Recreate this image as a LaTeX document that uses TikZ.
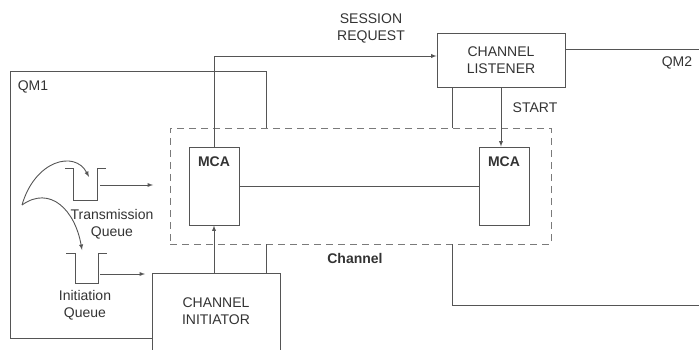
\documentclass[tikz,border=0pt]{standalone}
\usepackage{fontspec}
\setmainfont{Liberation Sans}
\definecolor{linegray}{HTML}{555555}
\definecolor{textgray}{HTML}{333333}
\definecolor{dashgray}{HTML}{7A7A7A}
\tikzset{
	lbl/.style={font=\fontsize{14}{17}\selectfont, text=textgray, align=center, inner sep=0pt},
	boldlbl/.style={lbl, font=\fontsize{14}{17}\selectfont\bfseries},
	box/.style={draw=linegray, line width=0.9pt, rectangle, inner sep=0pt, lbl},
	mcabox/.style={box, minimum width=50pt, minimum height=78pt},
	wire/.style={draw=linegray, line width=0.9pt},
	chanline/.style={draw=dashgray, line width=0.9pt, dash pattern=on 7pt off 5pt}
}
\begin{document}
\begin{tikzpicture}[>=latex, x=1pt, y=-1pt]
	\useasboundingbox (0,0) rectangle (699,350);
	\clip (0,0) rectangle (699,350);
	% channel
	\node[chanline, minimum width=381pt, minimum height=116pt] (chanbox) at (360.5,186) {};
	\node[mcabox] (mcaL) at (214,186) {};
	\node[mcabox] (mcaR) at (504,186) {};
	\node[boldlbl] (mcaLtxt) at ([yshift=-15pt]mcaL.north) {MCA};
	\node[boldlbl] (mcaRtxt) at ([yshift=-15pt]mcaR.north) {MCA};
	\node[boldlbl] (chanlbl) at (355,258) {Channel};
	% listener and initiator
	\node[box, minimum width=128pt, minimum height=54pt] (listener) at (501,60) {CHANNEL\\LISTENER};
	\node[box, minimum width=128pt, minimum height=100pt, anchor=north] (initiator) at (216,273) {};
	\node[lbl] (inittxt) at (216,311) {CHANNEL\\INITIATOR};
	% labels
	\node[lbl] (qmone) at (33,87) {QM1};
	\node[lbl] (qmtwo) at (677,63) {QM2};
	\node[lbl] (sesslbl) at (371,28) {SESSION\\REQUEST};
	\node[lbl] (startlbl) at (535,108) {START};
	\node[lbl] (tqlbl) at (112,224.5) {Transmission\\Queue};
	\node[lbl] (iqlbl) at (85,305) {Initiation\\Queue};
	% queue manager boundaries
	\coordinate (qmonetl) at (10,71);
	\coordinate (qmonetr) at (266,71);
	\coordinate (qmonebl) at (10,338);
	\coordinate (qmtwotop) at (699,49);
	\coordinate (qmtwotap) at (452,87);
	\coordinate (qmtwobr) at (699,305);
	\draw[wire] (initiator.west |- qmonebl) -- (qmonebl) -- (qmonetl) -- (qmonetr) -- (qmonetr |- chanbox.north);
	\draw[wire] (qmonetr |- initiator.north) -- (qmonetr |- chanbox.south);
	\draw[wire] (qmtwotop) -- (qmtwotop -| listener.east);
	\draw[wire] (qmtwotap |- listener.south) -- (qmtwotap |- chanbox.north);
	\draw[wire] (qmtwotap |- chanbox.south) |- (qmtwobr);
	% connectors
	\draw[wire,->] (mcaL.north) |- ([yshift=4pt]listener.west);
	\draw[wire,->] (listener.south) -- (listener.south |- mcaR.north);
	\draw[wire] (mcaL.east) -- (mcaR.west);
	\draw[wire,->] (mcaL.south |- initiator.north) -- (mcaL.south);
	% queues
	\draw[wire] (65,168) -- (73,168) -- (73,200) -- (97,200) -- (97,168) -- (106,168);
	\draw[wire] (66,253) -- (75,253) -- (75,283) -- (98,283) -- (98,253) -- (107,253);
	\coordinate (tqout) at (100,185);
	\coordinate (tqend) at (153,185);
	\coordinate (iqout) at (100,274);
	\coordinate (iqend) at (145,274);
	\draw[wire,->] (tqout) -- (tqend);
	\draw[wire,->] (iqout) -- (iqend);
	\coordinate (fork) at (22,205);
	\coordinate (tqin) at (89,177);
	\coordinate (iqin) at (82,250);
	\draw[wire,->] (fork) .. controls (35,160) and (75,150) .. (tqin);
	\draw[wire,->] (fork) .. controls (50,185) and (75,210) .. (iqin);
\end{tikzpicture}
\end{document}
